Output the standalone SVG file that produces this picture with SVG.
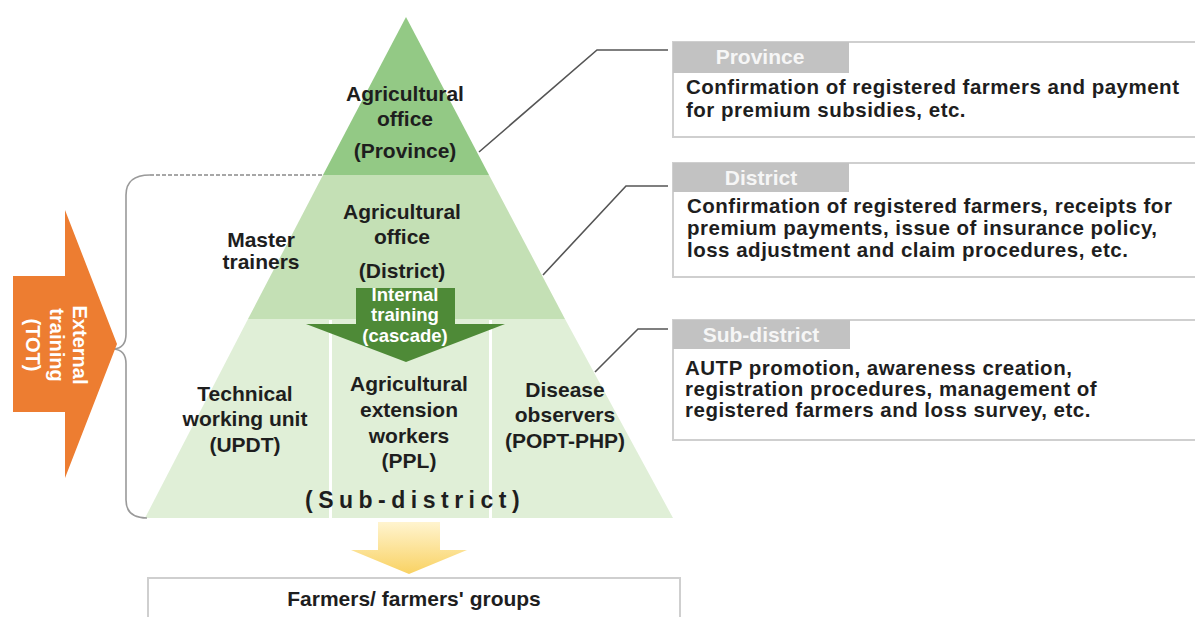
<svg xmlns="http://www.w3.org/2000/svg" width="1195" height="617" viewBox="0 0 1195 617">
  <defs>
    <linearGradient id="yellowFade" x1="0" y1="0" x2="0" y2="1">
      <stop offset="0" stop-color="#fff4cf"/>
      <stop offset="1" stop-color="#f9d263"/>
    </linearGradient>
    <style>
      .t { font-family: "Liberation Sans", Arial, sans-serif; font-weight: bold; font-size: 21px; fill: #1e1e1e; text-anchor: middle; }
      .w { fill: #ffffff; }
      .s18 { font-size: 18.5px; }
      .s20 { font-size: 20px; }
      .tab { font-family: "Liberation Sans", Arial, sans-serif; font-weight: bold; font-size: 21px; fill: #f6f6f6; text-anchor: middle; }
      .body { font-family: "Liberation Sans", Arial, sans-serif; font-weight: bold; font-size: 20.5px; letter-spacing: 0.5px; fill: #1e1e1e; }
      .box { fill: #ffffff; stroke: #cfcfcf; stroke-width: 2; }
      .tabbg { fill: #c2c2c2; }
      .lead { fill: none; stroke: #555555; stroke-width: 1.6; }
    </style>
  </defs>

  <rect width="1195" height="617" fill="#ffffff"/>

  <!-- pyramid bands -->
  <g id="pyramid">
    <polygon points="406,17 489,175 323,175" fill="#93c985"/>
    <polygon points="323,175 489,175 565,319 248,319" fill="#c4e0b5"/>
    <polygon points="248,319 565,319 673,518 145,518" fill="#e0efd7"/>
    <rect x="329" y="320" width="3" height="198" fill="#ffffff"/>
    <rect x="489" y="320" width="3" height="198" fill="#ffffff"/>
  </g>

  <!-- connectors: leader lines and the bracket -->
  <g id="connectors">
    <polyline class="lead" points="479,152 597,50 668,50"/>
    <polyline class="lead" points="543,275 626,186 668,186"/>
    <polyline class="lead" points="595,372 638,329 668,329"/>
    <line x1="150" y1="175" x2="323" y2="175" stroke="#8a8a8a" stroke-width="1.5" stroke-dasharray="4 2"/>
    <path d="M150 175 Q126 175 126 195 L126 334 Q126 348 114 349 Q126 350 126 364 L126 500 Q126 518 147 518" fill="none" stroke="#9a9a9a" stroke-width="1.6"/>
  </g>

  <g id="province-office">
    <text class="t" x="405" y="101">Agricultural</text>
    <text class="t" x="405" y="126">office</text>
    <text class="t" x="405" y="158">(Province)</text>
  </g>

  <g id="district-office">
    <text class="t" x="402" y="219">Agricultural</text>
    <text class="t" x="402" y="244">office</text>
    <text class="t" x="402" y="278">(District)</text>
  </g>

  <g id="master-trainers">
    <text class="t" x="261" y="247">Master</text>
    <text class="t" x="261" y="269">trainers</text>
  </g>

  <g id="internal-training">
    <polygon points="356,288 455,288 455,324 505,324 406,362 306,324 356,324" fill="#4e8a37"/>
    <text class="t w s18" x="405" y="301">Internal</text>
    <text class="t w s18" x="405" y="321">training</text>
    <text class="t w s18" x="405" y="342">(cascade)</text>
  </g>

  <g id="technical-unit">
    <text class="t" x="245" y="401">Technical</text>
    <text class="t" x="245" y="426">working unit</text>
    <text class="t" x="245" y="452">(UPDT)</text>
  </g>

  <g id="extension-workers">
    <text class="t" x="409" y="391">Agricultural</text>
    <text class="t" x="409" y="417">extension</text>
    <text class="t" x="409" y="443">workers</text>
    <text class="t" x="409" y="468">(PPL)</text>
  </g>

  <g id="disease-observers">
    <text class="t" x="565" y="397">Disease</text>
    <text class="t" x="565" y="422">observers</text>
    <text class="t" x="565" y="448">(POPT-PHP)</text>
  </g>

  <g id="sub-district-label">
    <text class="t" x="305" y="508" style="text-anchor:start; font-size:23px; letter-spacing:5.5px">(Sub-district)</text>
  </g>

  <g id="external-training">
    <polygon points="13,276 65,276 65,210 117,344 65,478 65,412 13,412" fill="#ed7d31"/>
    <g transform="translate(50,345) rotate(90)">
      <text class="t w s20" x="0" y="-23">External</text>
      <text class="t w s20" x="0" y="0">training</text>
      <text class="t w s20" x="0" y="24">(TOT)</text>
    </g>
  </g>

  <g id="farmers">
    <polygon points="378,522 440,522 440,550 467,550 409,574 351,550 378,550" fill="url(#yellowFade)"/>
    <rect class="box" x="148" y="578" width="532" height="60"/>
    <text class="t" x="414" y="606">Farmers/ farmers' groups</text>
  </g>

  <g id="province-box">
    <rect class="box" x="673" y="42" width="530" height="95"/>
    <rect class="tabbg" x="673" y="42" width="176" height="31"/>
    <text class="tab" x="760" y="64">Province</text>
    <text class="body" x="686" y="94">Confirmation of registered farmers and payment</text>
    <text class="body" x="686" y="117">for premium subsidies, etc.</text>
  </g>

  <g id="district-box">
    <rect class="box" x="673" y="163" width="530" height="114"/>
    <rect class="tabbg" x="673" y="163" width="176" height="29"/>
    <text class="tab" x="761" y="185">District</text>
    <text class="body" x="687" y="213">Confirmation of registered farmers, receipts for</text>
    <text class="body" x="687" y="235">premium payments, issue of insurance policy,</text>
    <text class="body" x="687" y="257">loss adjustment and claim procedures, etc.</text>
  </g>

  <g id="sub-district-box">
    <rect class="box" x="673" y="320" width="530" height="120"/>
    <rect class="tabbg" x="673" y="320" width="177" height="29"/>
    <text class="tab" x="761" y="342">Sub-district</text>
    <text class="body" x="685" y="375">AUTP promotion, awareness creation,</text>
    <text class="body" x="685" y="396">registration procedures, management of</text>
    <text class="body" x="685" y="417">registered farmers and loss survey, etc.</text>
  </g>
</svg>
